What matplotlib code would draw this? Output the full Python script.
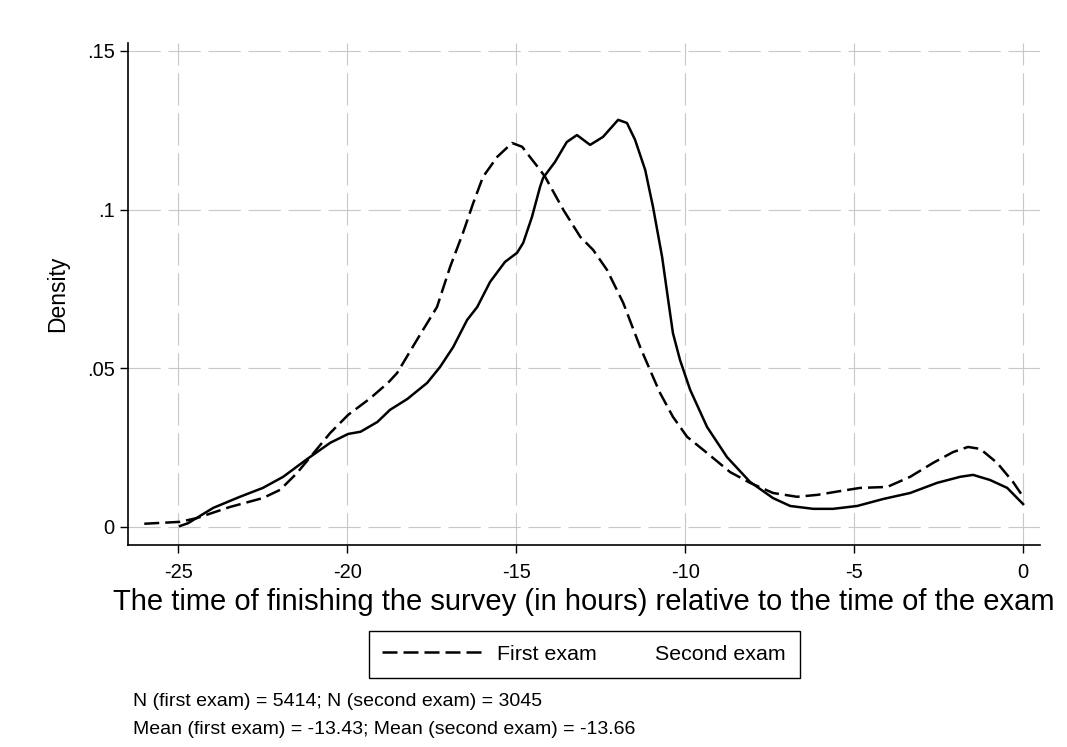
import matplotlib
matplotlib.use("Agg")
import matplotlib.pyplot as plt
from matplotlib.lines import Line2D

plt.rcParams['font.family'] = ['Liberation Sans', 'DejaVu Sans']

# first exam (dashed)
first_x = [-26.0, -24.94, -24.44, -23.46, -22.49, -21.98, -21.48, -21.09, -20.5, -19.97,
           -19.32, -18.79, -18.52, -17.93, -17.34, -16.95, -16.57, -16.27, -15.98, -15.56,
           -15.12, -14.82, -14.59, -14.29, -14.14, -13.6, -13.1, -12.72, -12.31, -11.83,
           -11.33, -10.95, -10.74, -10.36, -9.94, -9.35, -8.67, -8.08, -7.4, -6.69,
           -6.09, -5.41, -4.82, -4.02, -3.34, -2.66, -2.07, -1.63, -1.27, -0.77,
           -0.3, 0.0]
first_y = [0.001, 0.0016, 0.0028, 0.0063, 0.0091, 0.0117, 0.017, 0.022, 0.0296, 0.0353,
           0.0405, 0.0454, 0.0485, 0.059, 0.0693, 0.082, 0.0927, 0.102, 0.1103, 0.1166,
           0.121, 0.1198, 0.1166, 0.1125, 0.1103, 0.0999, 0.0914, 0.0873, 0.081, 0.0706,
           0.0567, 0.0473, 0.0422, 0.0347, 0.0284, 0.0233, 0.0173, 0.0139, 0.0107, 0.0095,
           0.0101, 0.0113, 0.0123, 0.0126, 0.0158, 0.0202, 0.0236, 0.0252, 0.0246, 0.0202,
           0.0142, 0.0095]

# second exam (solid)
second_x = [-24.94, -24.7, -23.96, -23.17, -22.49, -21.89, -21.18, -20.5, -19.97, -19.6,
            -19.1, -18.73, -18.22, -17.63, -17.25, -16.86, -16.45, -16.15, -15.77, -15.33,
            -14.97, -14.79, -14.53, -14.29, -14.2, -13.85, -13.5, -13.2, -12.81, -12.43,
            -11.98, -11.72, -11.48, -11.18, -10.95, -10.68, -10.5, -10.36, -10.15, -9.85,
            -9.35, -8.76, -8.08, -7.4, -6.89, -6.21, -5.62, -4.91, -4.14, -3.34,
            -2.54, -1.86, -1.48, -0.98, -0.47, 0.0]
second_y = [0.0003, 0.0012, 0.006, 0.0095, 0.0123, 0.0158, 0.0214, 0.0265, 0.0293, 0.030,
            0.0331, 0.0369, 0.0403, 0.0454, 0.0504, 0.0567, 0.0652, 0.0693, 0.0772, 0.0835,
            0.0864, 0.0895, 0.0977, 0.1072, 0.110, 0.115, 0.1213, 0.1235, 0.1204, 0.1229,
            0.1283, 0.1273, 0.122, 0.1125, 0.1009, 0.0851, 0.0715, 0.0611, 0.0526, 0.0432,
            0.0315, 0.022, 0.0142, 0.0091, 0.0066, 0.0057, 0.0057, 0.0066, 0.0088, 0.0107,
            0.0139, 0.0158, 0.0164, 0.0148, 0.0123, 0.0072]

x_ticks = [-25, -20, -15, -10, -5, 0]
y_ticks = [0, 0.05, 0.1, 0.15]
y_tick_labels = ['0', '.05', '.1', '.15']
notes = ["N (first exam) = 5414; N (second exam) = 3045",
         "Mean (first exam) = -13.43; Mean (second exam) = -13.66"]

fig = plt.figure(figsize=(10.67, 7.47), dpi=100)
ax = fig.add_axes([0.12, 0.2704, 0.8547, 0.672])

dash_style = (0, (6, 2.4))
ax.plot(first_x, first_y, color='black', lw=1.8, linestyle=dash_style)
ax.plot(second_x, second_y, color='black', lw=1.8)

ax.set_xlim(-26.48, 0.5)
ax.set_ylim(-0.0057, 0.1525)
ax.set_xticks(x_ticks, [str(t) for t in x_ticks])
ax.set_yticks(y_ticks, y_tick_labels)
ax.tick_params(direction='out', length=6, width=1, labelsize=14.5, color='black')
ax.tick_params(axis='x', pad=7)

grid_style = (0, (29, 7))
ax.grid(True, color='#c8c8c8', lw=0.8, linestyle=grid_style)
ax.set_axisbelow(True)

for side in ['top', 'right']:
    ax.spines[side].set_visible(False)
for side in ['left', 'bottom']:
    ax.spines[side].set_linewidth(1.2)

ax.set_xlabel('The time of finishing the survey (in hours) relative to the time of the exam',
              fontsize=21, labelpad=4)
ax.set_ylabel('Density', fontsize=16.5, labelpad=13)

handles = [Line2D([], [], color='black', lw=1.8, linestyle=dash_style),
           Line2D([], [], color='none', lw=0)]
leg = ax.legend(handles, ['First exam', 'Second exam'], loc='upper center',
                bbox_to_anchor=(0.5, -0.1713), ncol=2, fontsize=15.4,
                handlelength=4.67, handletextpad=0.7, columnspacing=-2.66,
                fancybox=False, framealpha=1, edgecolor='black',
                borderpad=0.65, borderaxespad=0)
leg.get_frame().set_linewidth(1.0)

fig.text(133 / 1067, 1 - 702 / 747, notes[0], fontsize=14, va='center', ha='left')
fig.text(133 / 1067, 1 - 729 / 747, notes[1], fontsize=14, va='center', ha='left')

fig.savefig('out.png', dpi=100)
